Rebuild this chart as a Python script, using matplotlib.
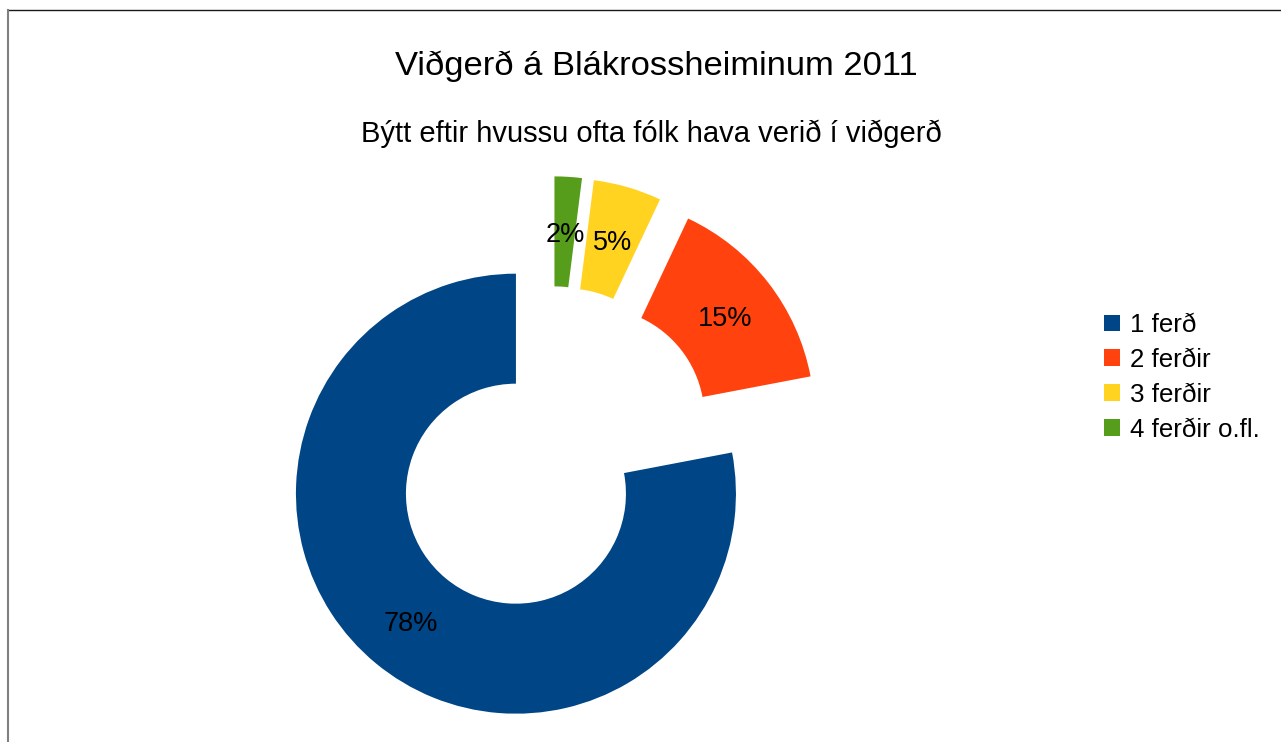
import matplotlib
matplotlib.use("Agg")
import matplotlib.pyplot as plt
from matplotlib.lines import Line2D
from matplotlib.patches import Patch

plt.rcParams['font.family'] = ['Liberation Sans', 'DejaVu Sans']

# data
categories = ['1 ferð', '2 ferðir', '3 ferðir', '4 ferðir o.fl.']
shares = [78, 15, 5, 2]
colors = ['#004586', '#ff420e', '#ffd320', '#579d1c']
title = 'Viðgerð á Blákrossheiminum 2011'
subtitle = 'Býtt eftir hvussu ofta fólk hava verið í viðgerð'

W, H = 1281, 742
fig = plt.figure(figsize=(W / 100, H / 100), dpi=100)

# pie axes: whole figure, 1 data unit = 220 px, pie centre at (551, 451) px
R = 220.0
cx, cy = 551.0, H - 451.3
ax = fig.add_axes([0, 0, 1, 1])
wedges, texts, autotexts = ax.pie(
    shares, colors=colors, startangle=90, counterclock=True,
    explode=[0.25] * len(shares), radius=1.0,
    wedgeprops=dict(width=0.5, linewidth=0),
    autopct='%.0f%%', pctdistance=0.75,
    textprops=dict(fontsize=19.5, color='black'))
for t in autotexts:
    t.set_va('center_baseline')
ax.set_xlim(-cx / R, (W - cx) / R)
ax.set_ylim(-cy / R, (H - cy) / R)
ax.set_aspect('equal')
ax.axis('off')

# titles
fig.text(656 / W, 1 - 75 / H, title, ha='center', va='baseline', fontsize=24.8)
fig.text(651 / W, 1 - 142 / H, subtitle, ha='center', va='baseline', fontsize=21)

# legend
handles = [Patch(facecolor=c, edgecolor='none') for c in colors]
fig.legend(handles, categories, loc='upper left',
           bbox_to_anchor=(1104 / W, 1 - 313 / H), frameon=False,
           fontsize=18.6, handlelength=0.62, handleheight=0.62,
           handletextpad=0.4, labelspacing=0.42, borderpad=0,
           borderaxespad=0)

# frame lines (top and left edges of the chart area)
fig.add_artist(Line2D([7.5 / W, 1], [1 - 10.3 / H] * 2, color='#1a1a1a', lw=1.0,
                      transform=fig.transFigure))
fig.add_artist(Line2D([7.5 / W] * 2, [0, 1 - 10.3 / H], color='#808080', lw=1.5,
                      transform=fig.transFigure))

fig.savefig('out.png', dpi=100, facecolor='white')
